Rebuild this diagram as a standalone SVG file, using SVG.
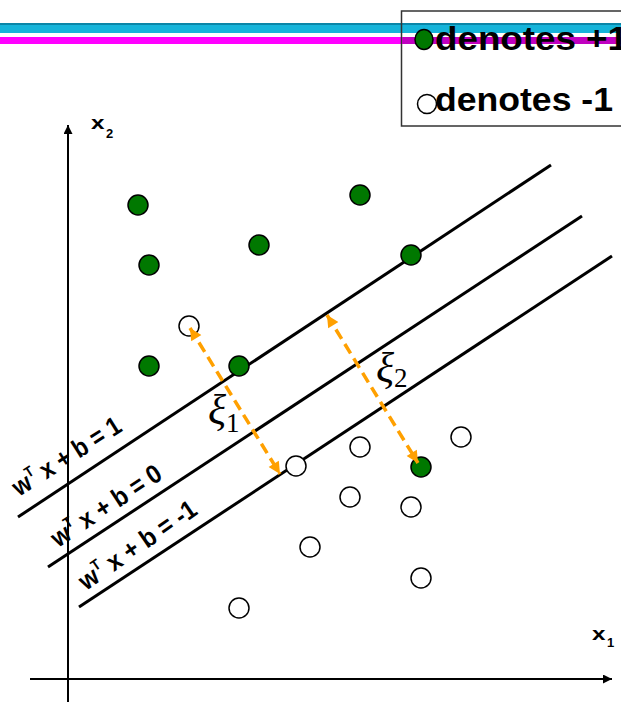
<svg xmlns="http://www.w3.org/2000/svg" width="621" height="702" viewBox="0 0 621 702">
<style>
.pos{fill:#007800;stroke:#000;stroke-width:1.5}
.neg{fill:#fff;stroke:#000;stroke-width:1.5}
.hp{stroke:#000;stroke-width:3;fill:none}
.axis{stroke:#000;stroke-width:2;fill:none}
.slack{stroke:#FFA000;stroke-width:3.5;stroke-dasharray:11 6;fill:none}
.lbl{font-family:"Liberation Sans",Arial,sans-serif;font-weight:bold;font-size:26px;fill:#000}
.leg{font-family:"Liberation Sans",Arial,sans-serif;font-weight:bold;font-size:34px;fill:#000}
.ax{font-family:"Liberation Sans",Arial,sans-serif;font-weight:bold;fill:#000}
.xi{font-family:"Liberation Serif","Times New Roman",serif;fill:#000}
</style>
<defs>
<marker id="oa" viewBox="0 0 10 10" refX="10" refY="5" markerUnits="userSpaceOnUse" markerWidth="14" markerHeight="12" orient="auto-start-reverse">
<path d="M0,0 L10,5 L0,10 z" fill="#FFA000"/>
</marker>
<marker id="ka" viewBox="0 0 10 10" refX="10" refY="5" markerUnits="userSpaceOnUse" markerWidth="11" markerHeight="9" orient="auto">
<path d="M0,0 L10,5 L0,10 z" fill="#000"/>
</marker>
</defs>

<g id="header">
<rect x="0" y="23" width="621" height="10" fill="#16b4da"/>
<rect x="0" y="23" width="621" height="2" fill="#0a86a8"/>
<rect x="0" y="37" width="402" height="7" fill="#ff00ff"/>
</g>

<g id="legend">
<rect x="401.5" y="11" width="230" height="115" fill="none" stroke="#333" stroke-width="1.5"/>
<rect x="402" y="37" width="219" height="7" fill="#c000c0"/>
<ellipse cx="424" cy="39.5" rx="9" ry="10" class="pos"/>
<text class="leg" x="435" y="50" textLength="193" lengthAdjust="spacingAndGlyphs">denotes +1</text>
<circle cx="427" cy="104" r="9.5" class="neg"/>
<text class="leg" x="435" y="111" textLength="178" lengthAdjust="spacingAndGlyphs">denotes -1</text>
</g>

<g id="axes">
<line class="axis" x1="68" y1="702" x2="68" y2="125" marker-end="url(#ka)"/>
<line class="axis" x1="30" y1="679" x2="612" y2="679" marker-end="url(#ka)"/>
<text class="ax" transform="translate(91,129) scale(1.35,1)" font-size="18">x</text>
<text class="ax" x="106" y="138" font-size="13">2</text>
<text class="ax" transform="translate(592,640) scale(1.35,1)" font-size="18">x</text>
<text class="ax" x="607" y="647" font-size="13">1</text>
</g>

<g id="hyperplanes">
<line class="hp" x1="18" y1="517" x2="551" y2="165"/>
<line class="hp" x1="48" y1="567" x2="582" y2="216"/>
<line class="hp" x1="79" y1="607" x2="612" y2="256"/>
<text class="lbl" transform="translate(19,497) rotate(-32.5)" textLength="124" lengthAdjust="spacingAndGlyphs">w<tspan font-size="15" dy="-11">T</tspan><tspan dy="11"> x + b = 1</tspan></text>
<text class="lbl" transform="translate(58,548) rotate(-33.4)" textLength="127" lengthAdjust="spacingAndGlyphs">w<tspan font-size="15" dy="-11">T</tspan><tspan dy="11"> x + b = 0</tspan></text>
<text class="lbl" transform="translate(86,591) rotate(-34.5)" textLength="137" lengthAdjust="spacingAndGlyphs">w<tspan font-size="15" dy="-11">T</tspan><tspan dy="11"> x + b = -1</tspan></text>
</g>

<g id="positives">
<circle class="pos" cx="138" cy="205" r="10"/>
<circle class="pos" cx="360" cy="195" r="10"/>
<circle class="pos" cx="259" cy="245" r="10"/>
<circle class="pos" cx="149" cy="265" r="10"/>
<circle class="pos" cx="411" cy="255" r="10"/>
<circle class="pos" cx="149" cy="366" r="10"/>
<circle class="pos" cx="239" cy="366" r="10"/>
<circle class="pos" cx="421" cy="467" r="10"/>
</g>

<g id="negatives">
<circle class="neg" cx="189" cy="326" r="10"/>
<circle class="neg" cx="296" cy="466" r="10"/>
<circle class="neg" cx="360" cy="447" r="10"/>
<circle class="neg" cx="461" cy="437" r="10"/>
<circle class="neg" cx="350" cy="497" r="10"/>
<circle class="neg" cx="411" cy="507" r="10"/>
<circle class="neg" cx="310" cy="547" r="10"/>
<circle class="neg" cx="421" cy="578" r="10"/>
<circle class="neg" cx="239" cy="608" r="10"/>
</g>

<g id="connectors">
<line class="slack" x1="190" y1="328" x2="280" y2="474" marker-start="url(#oa)" marker-end="url(#oa)"/>
<line class="slack" x1="327" y1="315" x2="418" y2="463" marker-start="url(#oa)" marker-end="url(#oa)"/>
</g>

<g id="xi-labels">
<text class="xi" x="208" y="424" font-size="42" font-style="italic">ξ<tspan font-size="27" font-style="normal" dy="8">1</tspan></text>
<text class="xi" x="376" y="382" font-size="42" font-style="italic">ξ<tspan font-size="27" font-style="normal" dy="5">2</tspan></text>
</g>
</svg>
